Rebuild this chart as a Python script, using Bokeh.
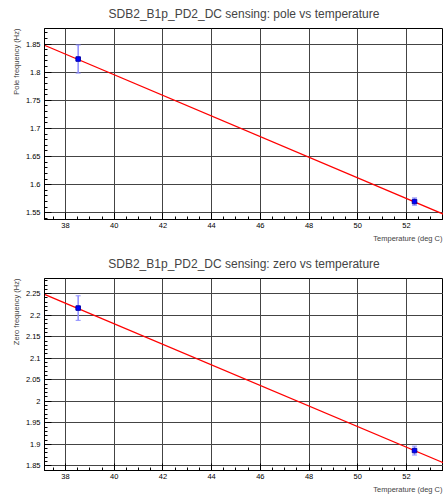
import numpy as np
from bokeh.plotting import figure
from bokeh.models import (Range1d, FixedTicker, Title, Whisker, TeeHead,
                          ColumnDataSource, CustomJSTickFormatter)
from bokeh.layouts import column
from bokeh.embed import file_html
from bokeh.resources import INLINE

# ---- data ----
temperature = [38.52, 52.33]
pole_freq = [1.8235, 1.5700]
pole_err = [0.025, 0.0065]
zero_freq = [2.2165, 1.8855]
zero_err = [0.0285, 0.0103]
fit_temperature = [37.138, 53.52]
pole_fit = [1.848, 1.5475]
zero_fit = [2.2484, 1.857]

x_ticks = [38, 40, 42, 44, 46, 48, 50, 52]
pole_ticks = [1.55, 1.6, 1.65, 1.7, 1.75, 1.8, 1.85]
zero_ticks = [1.85, 1.9, 1.95, 2.0, 2.05, 2.1, 2.15, 2.2, 2.25]

pole_title = "SDB2_B1p_PD2_DC sensing: pole vs temperature"
zero_title = "SDB2_B1p_PD2_DC sensing: zero vs temperature"
pole_ylabel = "Pole frequency (Hz)"
zero_ylabel = "Zero frequency (Hz)"
x_label = "Temperature (deg C)"

FONT = "Liberation Sans"
fmt = CustomJSTickFormatter(code="return String(Number(tick.toFixed(3)));")


def make_panel(title, ylabel, yvals, yerr, fit_y, yrange, yticks, height, top, bottom):
    p = figure(width=443, height=height,
               x_range=Range1d(37.138, 53.52), y_range=Range1d(*yrange),
               output_backend="svg", toolbar_location=None,
               min_border_left=44, min_border_right=0,
               min_border_top=top, min_border_bottom=bottom)
    p.outline_line_color = "black"
    p.outline_line_width = 1
    p.background_fill_color = "white"
    p.border_fill_color = "white"

    p.title.text = title
    p.title.text_font = FONT
    p.title.text_font_size = "12px"
    p.title.text_font_style = "normal"
    p.title.align = "center"
    p.title.vertical_align = "top"
    p.title.offset = 4
    p.title.standoff = 12

    p.xaxis.ticker = FixedTicker(ticks=x_ticks,
                                 minor_ticks=list(np.arange(37.5, 53.6, 0.5)))
    p.yaxis.ticker = FixedTicker(ticks=yticks,
                                 minor_ticks=list(np.round(np.arange(yrange[0] - 0.01, yrange[1] + 0.01, 0.01), 2)))
    for ax in (p.xaxis[0], p.yaxis[0]):
        ax.formatter = fmt
        ax.axis_line_color = "black"
        ax.major_tick_in = 7
        ax.major_tick_out = 0
        ax.minor_tick_in = 3
        ax.minor_tick_out = 0
        ax.major_tick_line_color = "black"
        ax.minor_tick_line_color = "black"
        ax.major_label_text_font = FONT
        ax.major_label_text_font_size = "7.5px"
        ax.major_label_text_color = "black"
    p.xaxis.major_label_standoff = 3
    p.yaxis.major_label_standoff = 4

    p.xgrid.grid_line_color = "#444444"
    p.ygrid.grid_line_color = "#444444"
    p.xgrid.grid_line_width = 1
    p.ygrid.grid_line_width = 1

    p.line(fit_temperature, fit_y, line_color="red", line_width=1.3)

    src = ColumnDataSource(dict(
        x=temperature, y=yvals,
        upper=[v + e for v, e in zip(yvals, yerr)],
        lower=[v - e for v, e in zip(yvals, yerr)]))
    p.add_layout(Whisker(source=src, base="x", upper="upper", lower="lower",
                         dimension="height", line_color="#8c8cff", line_width=1.5,
                         upper_head=TeeHead(size=5, line_color="#8c8cff"),
                         lower_head=TeeHead(size=5, line_color="#8c8cff")))
    p.scatter("x", "y", source=src, marker="square", size=4.5,
              fill_color="#0000ff", line_color="#0000aa")

    p.add_layout(Title(text=ylabel, text_font=FONT, text_font_size="7.5px",
                       text_font_style="normal", align="right", offset=0,
                       standoff=4), "left")
    p.add_layout(Title(text=x_label, text_font=FONT, text_font_size="7.5px",
                       text_font_style="normal", align="right", offset=1,
                       standoff=2), "below")
    return p


p1 = make_panel(pole_title, pole_ylabel, pole_freq, pole_err, pole_fit,
                (1.5381, 1.8778), pole_ticks, 247, 27, 28)
p2 = make_panel(zero_title, zero_ylabel, zero_freq, zero_err, zero_fit,
                (1.8392, 2.2852), zero_ticks, 247, 31, 22)

layout = column(p1, p2, spacing=0)
open("out.html", "w").write(file_html(layout, INLINE))
